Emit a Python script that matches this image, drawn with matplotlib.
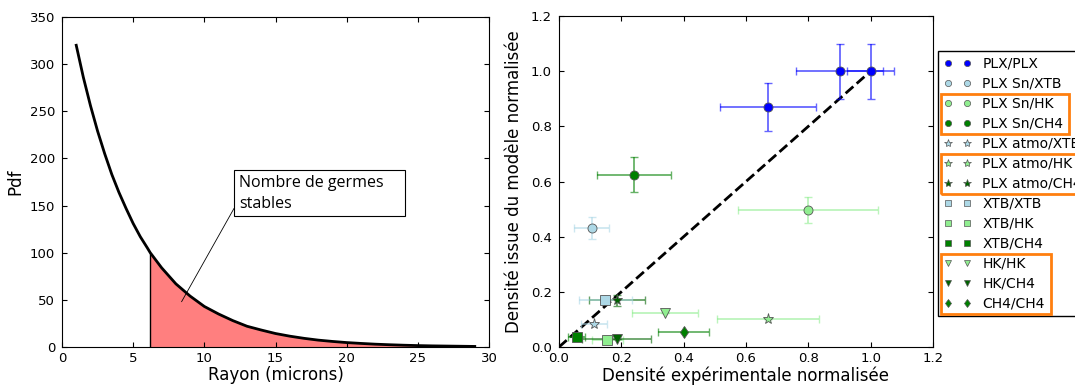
import numpy as np
import matplotlib
matplotlib.use("Agg")
import matplotlib.pyplot as plt
from matplotlib.patches import Rectangle
from matplotlib.lines import Line2D

# ---------------- data: left panel ----------------
rayon = [1, 1.5, 2, 2.5, 3, 3.5, 4, 4.5, 5, 5.5, 6, 6.2, 7, 8, 9, 10, 11, 12, 13, 14,
         15, 16, 17, 18, 19, 20, 21, 22, 23, 24, 25, 26, 27, 28, 29]
pdf = [320, 286, 256, 229, 205, 183, 164, 147, 131, 117, 105, 100, 84, 67, 54, 43, 35,
       28, 22, 18, 14.3, 11.5, 9.2, 7.3, 5.9, 4.7, 3.8, 3.0, 2.4, 1.9, 1.5, 1.2, 1.0,
       0.8, 0.6]
r_seuil = 6.2

# ---------------- data: right panel ----------------
labels = ["PLX/PLX", "PLX Sn/XTB", "PLX Sn/HK", "PLX Sn/CH4",
          "PLX atmo/XTB", "PLX atmo/HK", "PLX atmo/CH4",
          "XTB/XTB", "XTB/HK", "XTB/CH4",
          "HK/HK", "HK/CH4", "CH4/CH4"]
x_exp = [[0.67, 0.90, 1.0], [0.105], [0.80], [0.24],
         [0.113], [0.67], [0.187],
         [0.148], [0.155], [0.057],
         [0.34], [0.185], [0.40]]
y_mod = [[0.87, 1.0, 1.0], [0.43], [0.495], [0.625],
         [0.082], [0.10], [0.17],
         [0.172], [0.025], [0.035],
         [0.122], [0.03], [0.055]]
x_err = [[0.155, 0.14, 0.075], [0.057], [0.225], [0.118],
         [0.042], [0.163], [0.09],
         [0.085], [0.05], [0.027],
         [0.107], [0.11], [0.082]]
y_err = [[0.087, 0.1, 0.1], [0.04], [0.047], [0.063],
         [0.0], [0.0], [0.02],
         [0.0], [0.0], [0.0],
         [0.0], [0.0], [0.0]]
colors = ["blue", "lightblue", "lightgreen", "green",
          "lightblue", "lightgreen", "darkgreen",
          "lightblue", "lightgreen", "green",
          "lightgreen", "darkgreen", "green"]
markers = ["o", "o", "o", "o", "*", "*", "*", "s", "s", "s", "v", "v", "d"]
groups = [(2, 3), (5, 6), (10, 11, 12)]

plt.rcParams['font.family'] = ['DejaVu Sans']
plt.rcParams['xtick.direction'] = 'in'
plt.rcParams['ytick.direction'] = 'in'
plt.rcParams['xtick.top'] = True
plt.rcParams['ytick.right'] = True
plt.rcParams['xtick.labelsize'] = 9.5
plt.rcParams['ytick.labelsize'] = 9.5
plt.rcParams['xtick.major.pad'] = 3.5
plt.rcParams['ytick.major.pad'] = 5

fig = plt.figure(figsize=(10.75, 3.88), dpi=100)
ax1 = fig.add_axes([62/1075, 41/388, 427/1075, 330/388])
ax2 = fig.add_axes([559/1075, 41/388, 374/1075, 331/388])

# ---- left panel ----
r = np.array(rayon)
p = np.array(pdf)
mask = r >= r_seuil
ax1.fill_between(r[mask], 0, p[mask], facecolor='red', alpha=0.5, lw=0)
ax1.vlines(r_seuil, 0, p[r == r_seuil][0], color='black', lw=1)
ax1.plot(r, p, color='black', lw=2)
ax1.set_xlim(0, 30)
ax1.set_ylim(0, 350)
ax1.set_xlabel("Rayon (microns)", fontsize=12, labelpad=1)
ax1.set_ylabel("Pdf", fontsize=12)
ax1.annotate("Nombre de germes    \nstables", xy=(8.4, 48), xytext=(12.43, 163),
             fontsize=11.5, family=['Open Sans', 'DejaVu Sans'], va='center', ha='left',
             linespacing=1.45,
             bbox=dict(boxstyle='square,pad=0.28', fc='white', ec='black', lw=0.8),
             arrowprops=dict(arrowstyle='-', lw=0.6, color='black', relpos=(0, 0.33),
                             shrinkA=0, shrinkB=0))

# ---- right panel ----
ax2.plot([0, 1], [0, 1], 'k--', lw=2, zorder=1)
handles = []
for lab, xs, ys, xe, ye, c, m in zip(labels, x_exp, y_mod, x_err, y_err, colors, markers):
    ms = 8 if m == '*' else (6.5 if m in ('s', 'd') else 6.5)
    ax2.errorbar(xs, ys, xerr=xe, yerr=ye,
                 fmt='none', ecolor=c, alpha=0.6, capsize=3, elinewidth=1.3, zorder=2)
    ax2.plot(xs, ys, linestyle='none', marker=m, color=c, markersize=ms,
             markeredgecolor='#555555', markeredgewidth=0.6, zorder=3)
    lms = 6 if m == '*' else 4.5
    handles.append(Line2D([], [], linestyle='none', marker=m, color=c, markersize=lms,
                          markeredgecolor='#555555', markeredgewidth=0.5, label=lab))
ax2.set_xlim(0, 1.2)
ax2.set_ylim(0, 1.2)
ax2.set_xticks(np.arange(0, 1.21, 0.2))
ax2.set_yticks(np.arange(0, 1.21, 0.2))
ax2.set_xlabel("Densité expérimentale normalisée", fontsize=12, labelpad=1)
ax2.set_ylabel("Densité issue du modèle normalisée", fontsize=12, labelpad=6)

leg = ax2.legend(handles=handles, loc='upper left', bbox_to_anchor=(1.013, 0.893),
                 borderaxespad=0, numpoints=2, fontsize=10, labelspacing=0.43,
                 fancybox=False, framealpha=1, edgecolor='black', handletextpad=0.8)
leg.get_frame().set_linewidth(1.0)

fig.canvas.draw()
renderer = fig.canvas.get_renderer()
lbb = leg.get_window_extent(renderer)
texts = leg.get_texts()
W, H = fig.bbox.width, fig.bbox.height
for g in groups:
    tb = [texts[i].get_window_extent(renderer) for i in g]
    x0 = lbb.x0 + 3
    x1 = max(b.x1 for b in tb) + 6
    ctop = (tb[0].y0 + tb[0].y1) / 2
    cbot = (tb[-1].y0 + tb[-1].y1) / 2
    y1 = ctop + 10
    y0 = cbot - 10
    rect = Rectangle((x0 / W, y0 / H), (x1 - x0) / W, (y1 - y0) / H,
                     transform=fig.transFigure, fill=False, edgecolor='#ff7f0e',
                     lw=2, clip_on=False, zorder=10)
    fig.add_artist(rect)

fig.savefig("out.png", dpi=100)
